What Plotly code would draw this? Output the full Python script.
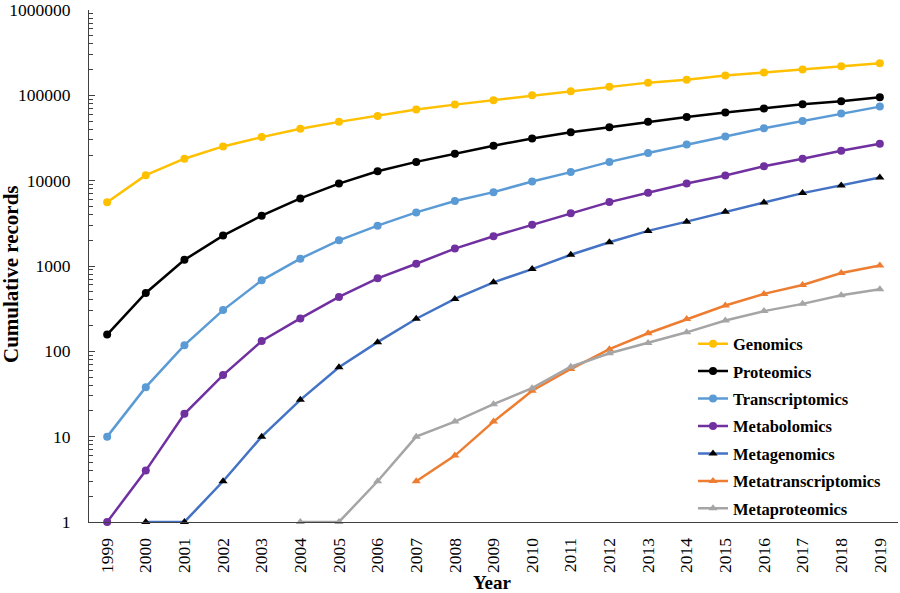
import plotly.graph_objects as go

years = list(range(1999, 2020))

genomics = [5600, 11600, 18100, 25200, 32400, 40500, 48900, 57400, 68100, 77900, 87500,
            100000, 112000, 126000, 141000, 152000, 171000, 185000, 201000, 220000, 238000]
proteomics = [157, 483, 1180, 2270, 3890, 6190, 9250, 12900, 16600, 20700, 25700,
              31300, 37000, 42400, 48900, 55900, 62900, 70000, 78600, 85100, 94800]
transcriptomics = [10, 38, 118, 304, 679, 1217, 2000, 2970, 4250, 5770, 7340,
                   9770, 12600, 16600, 21100, 26600, 33000, 41200, 50200, 61100, 73800]
metabolomics = [1, 4, 18.5, 52.6, 132, 243, 434, 717, 1063, 1600, 2230,
                3050, 4140, 5610, 7210, 9250, 11500, 14800, 18100, 22400, 27100]
metagenomics = [None, 1, 1, 3, 10, 27, 65, 128, 241, 411, 644,
                920, 1353, 1900, 2580, 3310, 4330, 5560, 7150, 8770, 10900]
metatranscriptomics = [None, None, None, None, None, None, None, None, 3, 6, 15,
                       34.5, 62, 106, 163, 239, 344, 471, 599, 826, 1016]
metaproteomics = [None, None, None, None, None, 1, 1, 3, 10, 15, 24,
                  37, 66, 95, 125, 167, 230, 296, 360, 454, 534]

series_names = ["Genomics", "Proteomics", "Transcriptomics", "Metabolomics",
                "Metagenomics", "Metatranscriptomics", "Metaproteomics"]
series_values = [genomics, proteomics, transcriptomics, metabolomics,
                 metagenomics, metatranscriptomics, metaproteomics]
line_colors = ["#FFC000", "#000000", "#5B9BD5", "#7030A0", "#4472C4", "#ED7D31", "#A5A5A5"]
marker_colors = ["#FFC000", "#000000", "#5B9BD5", "#7030A0", "#000000", "#ED7D31", "#A5A5A5"]
symbols = ["circle", "circle", "circle", "circle", "triangle-up", "triangle-up", "triangle-up"]

y_tickvals = [1, 10, 100, 1000, 10000, 100000, 1000000]
y_ticktext = ["1", "10", "100", "1000", "10000", "100000", "1000000"]

FONT = "Liberation Serif, Times New Roman, serif"

fig = go.Figure()
for name, vals, lc, mc, sym in zip(series_names, series_values, line_colors, marker_colors, symbols):
    fig.add_trace(go.Scatter(
        x=years, y=vals, name=name, mode="lines+markers", legendgroup=name,
        line=dict(color=lc, width=2.5),
        marker=dict(color=mc, symbol=sym, size=8),
        cliponaxis=False, connectgaps=False,
    ))

minor_vals = [k * 10 ** n for n in range(0, 6) for k in range(2, 10)]

fig.update_layout(
    width=900, height=593,
    margin=dict(l=89, r=2, t=10, b=71),
    paper_bgcolor="white", plot_bgcolor="white",
    font=dict(family=FONT, size=17, color="black"),
    showlegend=True,
    legend=dict(
        x=0.7466, y=0.382, xanchor="left", yanchor="top",
        font=dict(family=FONT, size=16.5, color="black", weight="bold"),
        bgcolor="rgba(0,0,0,0)", tracegroupgap=3, itemwidth=30,
    ),
    xaxis=dict(
        range=[1998.53, 2019.47], tickvals=years, ticktext=[str(y) for y in years],
        tickangle=-90, showgrid=False, zeroline=False, showline=True, automargin=False,
        linecolor="#404040", linewidth=1, ticks="", ticklabelstandoff=8,
        tickfont=dict(family=FONT, size=17.5, color="black"),
    ),
    yaxis=dict(
        type="log", range=[-0.0005, 6.0005], tickvals=y_tickvals, ticktext=y_ticktext,
        showgrid=False, zeroline=False, showline=True, linecolor="#404040", linewidth=1,
        automargin=False, ticklabelstandoff=14, ticklabeloverflow="allow",
        ticks="inside", ticklen=6, tickcolor="#404040",
        minor=dict(tickvals=minor_vals, ticks="inside", ticklen=4, tickcolor="#404040", showgrid=False),
        tickfont=dict(family=FONT, size=17.5, color="black"),
    ),
    annotations=[
        dict(text="<b>Cumulative records</b>", textangle=-90, xref="paper", yref="paper",
             x=(11 - 89) / 809, y=(522 - 274) / 512, xanchor="center", yanchor="middle",
             showarrow=False, borderpad=0, font=dict(family=FONT, size=21, color="black")),
        dict(text="<b>Year</b>", xref="paper", yref="paper",
             x=(492 - 89) / 809, y=(522 - 582) / 512, xanchor="center", yanchor="middle",
             showarrow=False, borderpad=0, font=dict(family=FONT, size=19, color="black")),
    ],
)

fig.write_html("out.html", post_script="document.body.style.margin='0';",
               config={"displayModeBar": False})
